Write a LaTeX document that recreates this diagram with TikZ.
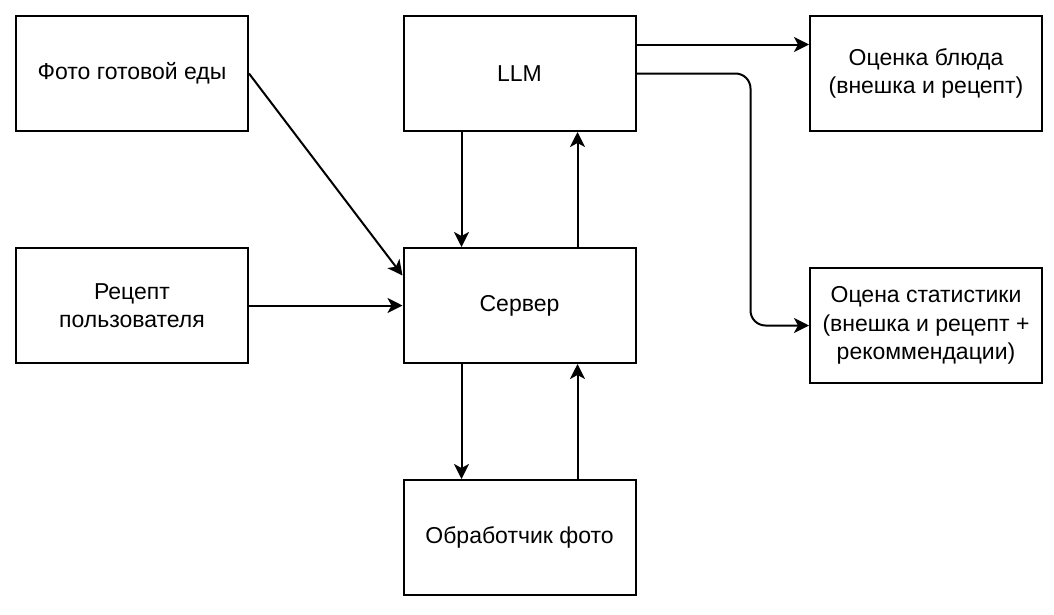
\documentclass[tikz,border=0pt]{standalone}
\usepackage{fontspec}
\setmainfont{Liberation Sans}
\usepackage{tikz}
\usetikzlibrary{shapes.geometric, arrows.meta, positioning}
\tikzstyle{block} = [rectangle, minimum width=232pt, minimum height=115pt, text centered, align=center, draw=black, line width=2pt, font=\fontsize{23}{28.5}\selectfont]
\tikzstyle{arrow} = [line width=2pt,-{Stealth[length=15pt,width=15pt,inset=4pt]}]

\begin{document}
\begin{tikzpicture}[node distance=232pt]
        \useasboundingbox (-132pt,73.5pt) rectangle (922pt,-540.5pt);
        \node (photo) [block] {Фото готовой еды};
        \node (recipe) [block, below of=photo] {Рецепт\\пользователя};
        \node (server) [block, right of=recipe, xshift=155.5pt] {Сервер};
        \node (llm) [block, above of=server] {LLM};
        \node (proc) [block, below of=server] {Обработчик фото};
        \node (dish) [block, right of=llm, xshift=174.5pt] {Оценка блюда\\(внешка и рецепт)};
        \node (stats) [block, below of=dish, yshift=-20pt] {Оцена статистики\\(внешка и рецепт +\\рекоммендации)};

        \draw [arrow] (photo.east) -- ([yshift=30pt]server.west);
        \draw [arrow] (recipe) -- (server);
        \draw [arrow] ([xshift=-58pt]llm.south) -- ([xshift=-58pt]server.north);
        \draw [arrow] ([xshift=58pt]server.north) -- ([xshift=58pt]llm.south);
        \draw [arrow] ([xshift=-58pt]server.south) -- ([xshift=-58pt]proc.north);
        \draw [arrow] ([xshift=58pt]proc.north) -- ([xshift=58pt]server.south);
        \draw [arrow] ([yshift=29pt]llm.east) -- ([yshift=29pt]dish.west);
        \draw [arrow, rounded corners=15pt] (llm.east) -- ++(114pt,0) |- (stats.west);
\end{tikzpicture}
\end{document}
